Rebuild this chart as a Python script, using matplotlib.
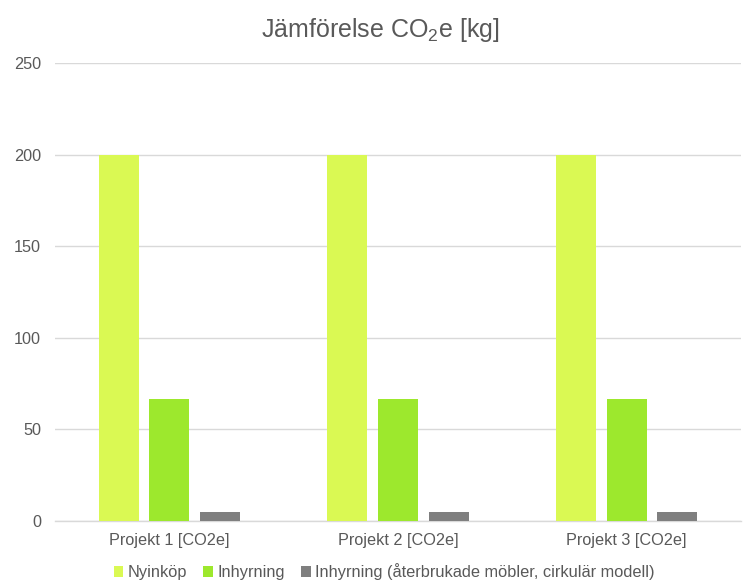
import matplotlib
matplotlib.use("Agg")
import matplotlib.pyplot as plt
import numpy as np

plt.rcParams['font.family'] = ['Liberation Sans', 'DejaVu Sans']
plt.rcParams['mathtext.fontset'] = 'custom'
plt.rcParams['mathtext.rm'] = 'Liberation Sans'

categories = ["Projekt 1 [CO2e]", "Projekt 2 [CO2e]", "Projekt 3 [CO2e]"]
series_names = ["Nyinköp", "Inhyrning", "Inhyrning (återbrukade möbler, cirkulär modell)"]
nyinkop = [200, 200, 200]
inhyrning = [66.7, 66.7, 66.7]
cirkular = [5, 5, 5]
colors = ["#DAF953", "#9DE82D", "#7F7F7F"]
yticks = [0, 50, 100, 150, 200, 250]

fig = plt.figure(figsize=(7.43, 5.8), dpi=100)
ax = fig.add_axes([55/743, 1-521/580, (741-55)/743, (521-63)/580])

x = np.arange(len(categories))
width = 0.175
offsets = [-0.221, 0.0, 0.221]
for vals, off, col, name in zip([nyinkop, inhyrning, cirkular], offsets, colors, series_names):
    ax.bar(x + off, vals, width, color=col, label=name, zorder=3)

ax.set_xlim(-0.5, len(categories) - 0.5)
ax.set_ylim(0, 250)
ax.set_yticks(yticks)
ax.set_yticklabels([str(t) for t in yticks])
ax.set_xticks(x)
ax.set_xticklabels(categories)
ax.yaxis.grid(True, color="#D9D9D9", linewidth=1.0, zorder=0)
ax.set_axisbelow(True)
for s in ["top", "right", "left"]:
    ax.spines[s].set_visible(False)
ax.spines["bottom"].set_color("#D9D9D9")
ax.spines["bottom"].set_linewidth(1.0)
ax.tick_params(axis="both", length=0, labelsize=11.7, labelcolor="#595959")
ax.tick_params(axis="y", pad=10)
ax.tick_params(axis="x", pad=8.5)

fig.text(0.512, 1-30/580, "Jämförelse CO$_\\mathrm{2}$e [kg]", ha="center", va="center",
         fontsize=18, color="#595959")

fig.legend(loc="center", bbox_to_anchor=(0.517, 1-572/580), ncol=3, frameon=False,
           fontsize=11.8, handlelength=0.6, handleheight=0.6, handletextpad=0.25,
           columnspacing=1.0, labelcolor="#595959")

fig.savefig("out.png", dpi=100)
